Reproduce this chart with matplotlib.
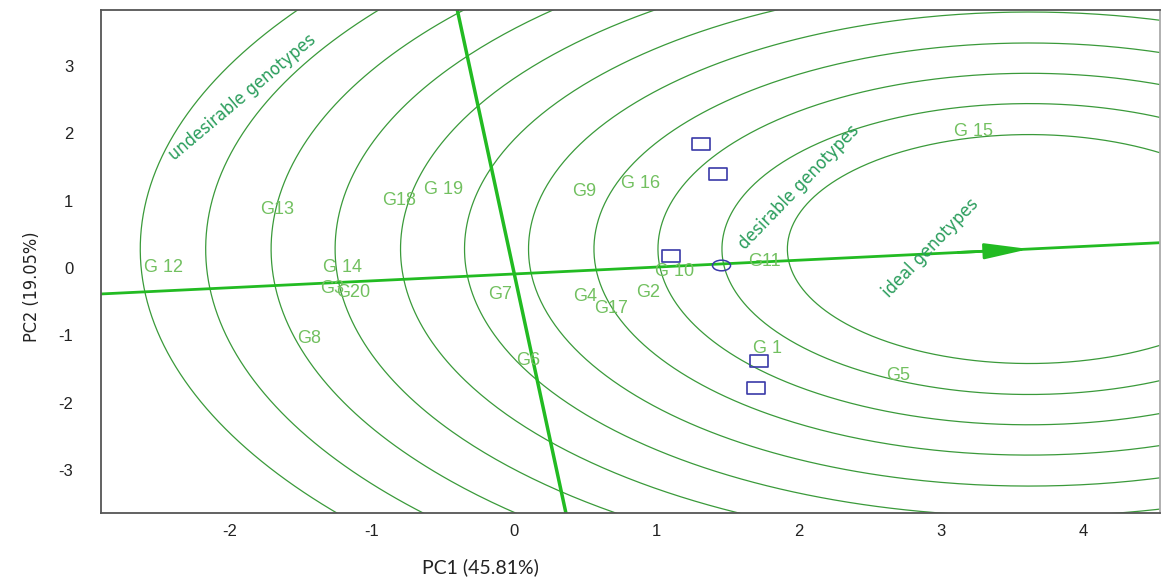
import numpy as np
import matplotlib
matplotlib.use("Agg")
import matplotlib.pyplot as plt
from matplotlib.path import Path
from matplotlib.transforms import Affine2D

plt.rcParams['axes.unicode_minus'] = False

# genotype labels and scores (PC1, PC2)
gen_labels = ["G 12", "G13", "G18", "G 19", "G 14", "G3", "G20", "G8", "G7", "G6",
              "G4", "G17", "G2", "G9", "G 16", "G 10", "G11", "G 1", "G5", "G 15"]
gen_x = [-2.47, -1.67, -0.81, -0.50, -1.21, -1.28, -1.13, -1.44, -0.10, 0.10,
         0.50, 0.68, 0.94, 0.49, 0.89, 1.13, 1.76, 1.78, 2.70, 3.23]
gen_y = [0.00, 0.86, 1.00, 1.17, 0.00, -0.30, -0.36, -1.05, -0.40, -1.38,
         -0.43, -0.61, -0.37, 1.13, 1.26, -0.06, 0.09, -1.20, -1.60, 2.02]

# environment markers
env_x = [1.31, 1.43, 1.10, 1.72, 1.70]
env_y = [1.84, 1.39, 0.17, -1.39, -1.78]

# average environment point and ideal genotype point
avg_env = (1.45, 0.05)
origin = (0.0, -0.09)
ideal = (3.62, 0.28)
ring_radii = [1.70, 2.16, 2.61, 3.06, 3.52, 3.97, 4.42, 4.88, 5.33, 5.79, 6.25]

fig = plt.figure(figsize=(11.61, 5.79), dpi=100)
ax = fig.add_axes([101/1161, 1-513/579, 1059/1161, 503/579])

xlim = (-2.906, 4.54)
ylim = (-3.64, 3.83)

# concentric rings around ideal genotype
t = np.linspace(0, 2*np.pi, 720)
for r in ring_radii:
    ax.plot(ideal[0] + r*np.cos(t), ideal[1] + r*np.sin(t),
            color='#3a9a3a', lw=0.9, zorder=1)

# average environment axis and its perpendicular
dx, dy = ideal[0]-origin[0], ideal[1]-origin[1]
slope = dy/dx
xx = np.array(xlim)
ax.plot(xx, origin[1] + slope*(xx-origin[0]), color='#22bb22', lw=2, zorder=2)
yy = np.array(ylim)
ax.plot(origin[0] - slope*(yy-origin[1]), yy, color='#22bb22', lw=2.5, zorder=2)

ax.annotate('', xy=ideal, xytext=(ideal[0]-0.5, ideal[1]-0.5*slope),
            arrowprops=dict(arrowstyle='-|>,head_length=0.9,head_width=0.16',
                            mutation_scale=30, color='#22bb22', lw=2,
                            shrinkA=0, shrinkB=0), zorder=3)

# genotype labels
for lab, x, y in zip(gen_labels, gen_x, gen_y):
    ax.text(x, y, lab, color='#72c060', fontsize=13, ha='center', va='center',
            family='Liberation Sans', zorder=4)

# environments (open rectangles)
rect = Path([(-1.5, -1), (1.5, -1), (1.5, 1), (-1.5, 1), (-1.5, -1)],
            [Path.MOVETO, Path.LINETO, Path.LINETO, Path.LINETO, Path.CLOSEPOLY])
ax.plot(env_x, env_y, ls='none', marker=rect, markersize=13,
        markerfacecolor='none', markeredgecolor='#3a3aa8', markeredgewidth=1.2, zorder=5)

ell = Path.unit_circle().transformed(Affine2D().scale(1.7, 1.0))
ax.plot([avg_env[0]], [avg_env[1]], ls='none', marker=ell, markersize=13,
        markerfacecolor='none', markeredgecolor='#3a3aa8', markeredgewidth=1.1, zorder=5)

# region annotations
note_font = ['DejaVu Sans']
kw = dict(color='#2a9d5c', fontsize=13, ha='center', va='center', family=note_font,
          fontstretch='condensed', rotation_mode='anchor')
ax.text(-1.91, 2.53, 'undesirable genotypes', rotation=40, **kw)
ax.text(2.00, 1.20, 'desirable genotypes', rotation=46, **kw)
ax.text(2.93, 0.30, 'ideal genotypes', rotation=46, **kw)

ax.set_xlim(*xlim)
ax.set_ylim(*ylim)
ax.set_xticks([-2, -1, 0, 1, 2, 3, 4])
ax.set_yticks([-3, -2, -1, 0, 1, 2, 3])
ax.tick_params(length=0, labelsize=12, colors='#222222', pad=8)
ax.tick_params(axis='y', pad=20)
for lab in ax.get_xticklabels() + ax.get_yticklabels():
    lab.set_family('Liberation Sans')
for s in ax.spines.values():
    s.set_color('#555555')
    s.set_linewidth(1.3)
ax.spines['right'].set_color('#aaaaaa')

fig.text(480/1161, 1-567/579, 'PC1 (45.81%)', ha='center', va='center',
         fontsize=14, family=['Lato', 'DejaVu Sans'], color='#222222')
fig.text(32/1161, 1-287/579, 'PC2 (19.05%)', ha='center', va='center', rotation=90,
         fontsize=13, family=note_font, fontstretch='condensed', color='#222222')

fig.savefig('out.png', dpi=100)
